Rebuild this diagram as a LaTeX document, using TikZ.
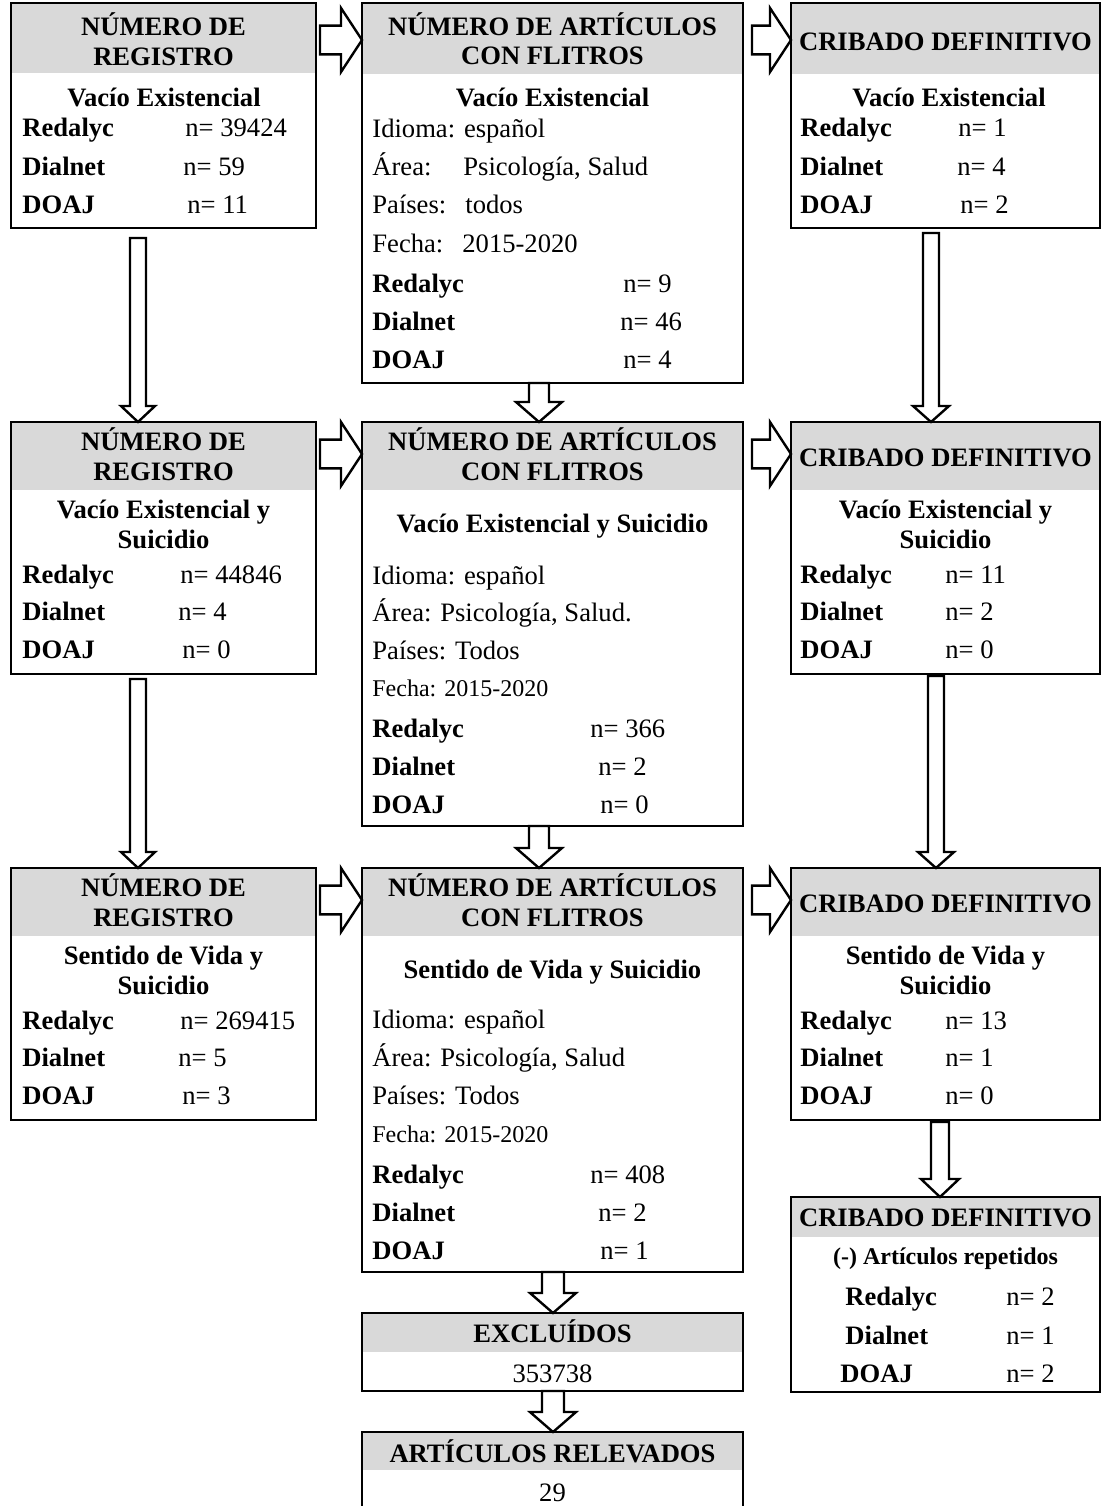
\documentclass[tikz,border=0pt]{standalone}
\usepackage{fontspec}
\setmainfont{Liberation Serif}
\usetikzlibrary{calc,fit}
\definecolor{hdrgray}{HTML}{D9D9D9}
\tikzset{
 boxs/.style={draw=black, line width=1.1pt, inner sep=0pt, outer sep=0pt},
 hdr/.style={fill=hdrgray},
 barrow/.style={draw=black, fill=white, line width=1.2pt, line join=miter},
 txt/.style={inner sep=0pt, font=\fontsize{13.3}{16}\selectfont},
 btxt/.style={inner sep=0pt, font=\fontsize{13.3}{16}\selectfont\bfseries},
 stxt/.style={inner sep=0pt, font=\fontsize{12}{14}\selectfont},
 sbtxt/.style={inner sep=0pt, font=\fontsize{12}{14}\selectfont\bfseries},
}
\newcommand\TL[5]{\node[#2,anchor=base west] (#1) at (#3,#4) {#5};}
\newcommand\TC[5]{\node[#2,anchor=base] (#1) at (#3,#4) {#5};}
\newcommand\mkbox[6]{%
 \fill[hdr] (#2,#3) rectangle (#4,#6);
 \coordinate (#1-nw) at (#2,#3); \coordinate (#1-se) at (#4,#5);
 \node[boxs, fit=(#1-nw)(#1-se)] (#1) {};}
% vertical block arrow: top point, bottom point, shaft half, head half, head length
\newcommand\varr[5]{\draw[barrow] let \p1=(#1), \p2=(#2) in
 (\x1-#3,\y1) -- (\x1-#3,\y2+#5) -- (\x1-#4,\y2+#5) -- (\x1,\y2) -- (\x1+#4,\y2+#5) -- (\x1+#3,\y2+#5) -- (\x1+#3,\y1) -- cycle;}
% horizontal block arrow: left point, right point, shaft half, head half, head length
\newcommand\harr[5]{\draw[barrow] let \p1=(#1), \p2=(#2) in
 (\x1,\y1+#3) -- (\x2-#5,\y1+#3) -- (\x2-#5,\y1+#4) -- (\x2,\y1) -- (\x2-#5,\y1-#4) -- (\x2-#5,\y1-#3) -- (\x1,\y1-#3) -- cycle;}
\begin{document}
\begin{tikzpicture}[x=0.5pt,y=-0.5pt]
\useasboundingbox (0,0) rectangle (1103,1506);
\clip (0,0) rectangle (1103,1506);
\fill[white] (0,0) rectangle (1103,1506);

% ---------- boxes ----------
\mkbox{r1c1}{11}{3}{316}{228}{73}
\mkbox{r1c2}{362}{3}{743}{383}{74}
\mkbox{r1c3}{791}{3}{1100}{228}{74}
\mkbox{r2c1}{11}{422}{316}{674}{490}
\mkbox{r2c2}{362}{422}{743}{826}{490}
\mkbox{r2c3}{791}{422}{1100}{674}{490}
\mkbox{r3c1}{11}{868}{316}{1120}{936}
\mkbox{r3c2}{362}{868}{743}{1272}{936}
\mkbox{r3c3}{791}{868}{1100}{1120}{936}
\mkbox{r4c3}{791}{1197}{1100}{1392}{1237}
\mkbox{excl}{362}{1313}{743}{1391}{1352}
\mkbox{relev}{362}{1432}{743}{1514}{1470}

% ---------- row 1 ----------
\TC{a1}{btxt}{163.5}{35}{NÚMERO DE}
\TC{a2}{btxt}{163.5}{65}{REGISTRO}
\TC{a3}{btxt}{164}{106}{Vacío Existencial}
\TL{a4}{btxt}{22}{136}{Redalyc}\TL{a5}{txt}{185}{136}{n= 39424}
\TL{a6}{btxt}{22}{175}{Dialnet}\TL{a7}{txt}{183}{175}{n= 59}
\TL{a8}{btxt}{22}{213}{DOAJ}\TL{a9}{txt}{187}{213}{n= 11}

\TC{b1}{btxt}{552.5}{35}{NÚMERO DE ARTÍCULOS}
\TC{b2}{btxt}{552.5}{64}{CON FLITROS}
\TC{b3}{btxt}{552.5}{106}{Vacío Existencial}
\TL{b4}{txt}{372}{137}{Idioma: español}
\TL{b5}{txt}{372}{175}{Área:}\TL{b6}{txt}{463}{175}{Psicología, Salud}
\TL{b7}{txt}{372}{213}{Países:}\TL{b8}{txt}{465}{213}{todos}
\TL{b9}{txt}{372}{252}{Fecha:}\TL{b10}{txt}{462}{252}{2015-2020}
\TL{b11}{btxt}{372}{292}{Redalyc}\TL{b12}{txt}{623}{292}{n= 9}
\TL{b13}{btxt}{372}{330}{Dialnet}\TL{b14}{txt}{620}{330}{n= 46}
\TL{b15}{btxt}{372}{368}{DOAJ}\TL{b16}{txt}{623}{368}{n= 4}

\TC{c1}{btxt}{945.5}{50}{CRIBADO DEFINITIVO}
\TC{c2}{btxt}{949}{106}{Vacío Existencial}
\TL{c3}{btxt}{800}{136}{Redalyc}\TL{c4}{txt}{958}{136}{n= 1}
\TL{c5}{btxt}{800}{175}{Dialnet}\TL{c6}{txt}{957}{175}{n= 4}
\TL{c7}{btxt}{800}{213}{DOAJ}\TL{c8}{txt}{960}{213}{n= 2}

% ---------- row 2 ----------
\TC{d1}{btxt}{163.5}{450}{NÚMERO DE}
\TC{d2}{btxt}{163.5}{480}{REGISTRO}
\TC{d3}{btxt}{163.5}{518}{Vacío Existencial y}
\TC{d4}{btxt}{163.5}{548}{Suicidio}
\TL{d5}{btxt}{22}{583}{Redalyc}\TL{d6}{txt}{180}{583}{n= 44846}
\TL{d7}{btxt}{22}{620}{Dialnet}\TL{d8}{txt}{178}{620}{n= 4}
\TL{d9}{btxt}{22}{658}{DOAJ}\TL{d10}{txt}{182}{658}{n= 0}

\TC{e1}{btxt}{552.5}{450}{NÚMERO DE ARTÍCULOS}
\TC{e2}{btxt}{552.5}{480}{CON FLITROS}
\TC{e3}{btxt}{552.5}{532}{Vacío Existencial y Suicidio}
\TL{e4}{txt}{372}{584}{Idioma: español}
\TL{e5}{txt}{372}{621}{Área: Psicología, Salud.}
\TL{e6}{txt}{372}{659}{Países: Todos}
\TL{e7}{stxt}{372}{696}{Fecha: 2015-2020}
\TL{e8}{btxt}{372}{737}{Redalyc}\TL{e9}{txt}{590}{737}{n= 366}
\TL{e10}{btxt}{372}{775}{Dialnet}\TL{e11}{txt}{598}{775}{n= 2}
\TL{e12}{btxt}{372}{813}{DOAJ}\TL{e13}{txt}{600}{813}{n= 0}

\TC{f1}{btxt}{945.5}{466}{CRIBADO DEFINITIVO}
\TC{f2}{btxt}{945.5}{518}{Vacío Existencial y}
\TC{f3}{btxt}{945.5}{548}{Suicidio}
\TL{f4}{btxt}{800}{583}{Redalyc}\TL{f5}{txt}{945}{583}{n= 11}
\TL{f6}{btxt}{800}{620}{Dialnet}\TL{f7}{txt}{945}{620}{n= 2}
\TL{f8}{btxt}{800}{658}{DOAJ}\TL{f9}{txt}{945}{658}{n= 0}

% ---------- row 3 ----------
\TC{g1}{btxt}{163.5}{896}{NÚMERO DE}
\TC{g2}{btxt}{163.5}{926}{REGISTRO}
\TC{g3}{btxt}{163.5}{964}{Sentido de Vida y}
\TC{g4}{btxt}{163.5}{994}{Suicidio}
\TL{g5}{btxt}{22}{1029}{Redalyc}\TL{g6}{txt}{180}{1029}{n= 269415}
\TL{g7}{btxt}{22}{1066}{Dialnet}\TL{g8}{txt}{178}{1066}{n= 5}
\TL{g9}{btxt}{22}{1104}{DOAJ}\TL{g10}{txt}{182}{1104}{n= 3}

\TC{h1}{btxt}{552.5}{896}{NÚMERO DE ARTÍCULOS}
\TC{h2}{btxt}{552.5}{926}{CON FLITROS}
\TC{h3}{btxt}{552.5}{978}{Sentido de Vida y Suicidio}
\TL{h4}{txt}{372}{1028}{Idioma: español}
\TL{h5}{txt}{372}{1066}{Área: Psicología, Salud}
\TL{h6}{txt}{372}{1104}{Países: Todos}
\TL{h7}{stxt}{372}{1142}{Fecha: 2015-2020}
\TL{h8}{btxt}{372}{1183}{Redalyc}\TL{h9}{txt}{590}{1183}{n= 408}
\TL{h10}{btxt}{372}{1221}{Dialnet}\TL{h11}{txt}{598}{1221}{n= 2}
\TL{h12}{btxt}{372}{1259}{DOAJ}\TL{h13}{txt}{600}{1259}{n= 1}

\TC{i1}{btxt}{945.5}{912}{CRIBADO DEFINITIVO}
\TC{i2}{btxt}{945.5}{964}{Sentido de Vida y}
\TC{i3}{btxt}{945.5}{994}{Suicidio}
\TL{i4}{btxt}{800}{1029}{Redalyc}\TL{i5}{txt}{945}{1029}{n= 13}
\TL{i6}{btxt}{800}{1066}{Dialnet}\TL{i7}{txt}{945}{1066}{n= 1}
\TL{i8}{btxt}{800}{1104}{DOAJ}\TL{i9}{txt}{945}{1104}{n= 0}

% ---------- row 4 ----------
\TC{j1}{btxt}{945.5}{1226}{CRIBADO DEFINITIVO}
\TC{j2}{sbtxt}{945.5}{1264}{(-) Artículos repetidos}
\TL{j3}{btxt}{845}{1305}{Redalyc}\TL{j4}{txt}{1006}{1305}{n= 2}
\TL{j5}{btxt}{845}{1344}{Dialnet}\TL{j6}{txt}{1006}{1344}{n= 1}
\TL{j7}{btxt}{840}{1382}{DOAJ}\TL{j8}{txt}{1006}{1382}{n= 2}

\TC{k1}{btxt}{552.5}{1342}{EXCLUÍDOS}
\TC{k2}{txt}{552.5}{1382}{353738}
\TC{l1}{btxt}{552.5}{1462}{ARTÍCULOS RELEVADOS}
\TC{l2}{txt}{552.5}{1501}{29}

% ---------- arrow guide coordinates ----------
\coordinate (ax1) at (138,0);
\coordinate (ax2) at (539,0);
\coordinate (ax3) at (931,0);
\coordinate (ax3b) at (936,0);
\coordinate (ax3c) at (940,0);
\coordinate (ax2b) at (553,0);
\coordinate (hy1) at (0,40);
\coordinate (hy2) at (0,454);
\coordinate (hy3) at (0,900);

% ---------- horizontal arrows ----------
\harr{$(r1c1.east |- hy1)+(4,0)$}{r1c2.west |- hy1}{7.2pt}{16pt}{10.5pt}
\harr{$(r1c2.east |- hy1)+(9,0)$}{r1c3.west |- hy1}{7.2pt}{16pt}{10.5pt}
\harr{$(r2c1.east |- hy2)+(4,0)$}{r2c2.west |- hy2}{7.2pt}{16pt}{10.5pt}
\harr{$(r2c2.east |- hy2)+(9,0)$}{r2c3.west |- hy2}{7.2pt}{16pt}{10.5pt}
\harr{$(r3c1.east |- hy3)+(4,0)$}{r3c2.west |- hy3}{7.2pt}{16pt}{10.5pt}
\harr{$(r3c2.east |- hy3)+(9,0)$}{r3c3.west |- hy3}{7.2pt}{16pt}{10.5pt}

% ---------- vertical arrows ----------
\varr{$(ax1 |- r1c1.south)+(0,10)$}{ax1 |- r2c1.north}{4pt}{8.5pt}{8pt}
\varr{ax2 |- r1c2.south}{ax2 |- r2c2.north}{5pt}{11.5pt}{10pt}
\varr{$(ax3 |- r1c3.south)+(0,5)$}{ax3 |- r2c3.north}{4pt}{9pt}{8pt}
\varr{$(ax1 |- r2c1.south)+(0,5)$}{ax1 |- r3c1.north}{4pt}{8.5pt}{8pt}
\varr{ax2 |- r2c2.south}{ax2 |- r3c2.north}{5pt}{11.5pt}{10pt}
\varr{$(ax3b |- r2c3.south)+(0,2)$}{ax3b |- r3c3.north}{4pt}{9pt}{8pt}
\varr{$(ax3c |- r3c3.south)+(0,2)$}{ax3c |- r4c3.north}{4.5pt}{9.5pt}{9pt}
\varr{ax2b |- r3c2.south}{ax2b |- excl.north}{5.5pt}{11.5pt}{10pt}
\varr{ax2b |- excl.south}{ax2b |- relev.north}{5.5pt}{11.5pt}{10pt}
\end{tikzpicture}
\end{document}
